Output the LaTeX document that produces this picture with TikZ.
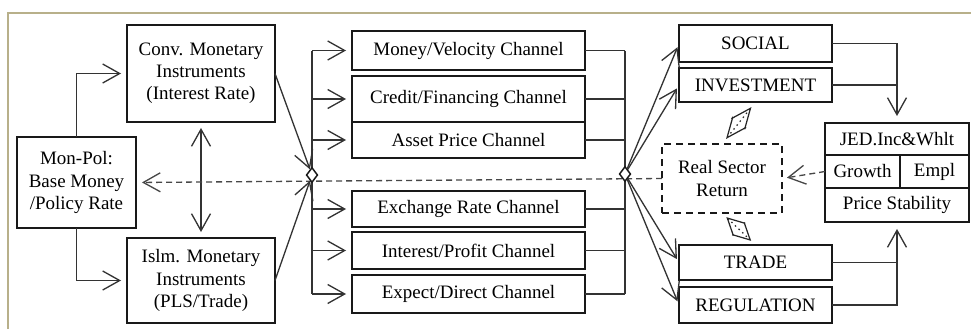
\documentclass[tikz,border=0pt]{standalone}
\usepackage{fontspec}
\setmainfont{Liberation Serif}
\usetikzlibrary{arrows.meta}
\usetikzlibrary{positioning}
\usetikzlibrary{shapes.geometric}

\definecolor{frametan}{RGB}{184,176,138}

\tikzset{
  >={Straight Barb[length=0.34cm,width=0.38cm]},
  blk/.style={draw=black!90,line width=1.3pt,inner sep=0pt,outer sep=0pt,align=center,font=\fontsize{10.8}{12.6}\selectfont},
  chan/.style={blk,minimum width=4.66cm},
  sect/.style={blk,minimum width=3.06cm},
  wire/.style={draw=black!80,line width=0.75pt},
  feed/.style={draw=black!72,line width=0.75pt,dash pattern=on 0.12cm off 0.08cm},
  junc/.style={diamond,draw=black!90,fill=white,line width=0.85pt,inner sep=0pt,minimum width=0.23cm,minimum height=0.3cm},
  link/.style={draw=black!85,line width=0.7pt,dash pattern=on 0.03cm off 0.07cm,shorten <=0.13cm,shorten >=0.13cm}
}

\begin{document}
\begin{tikzpicture}[x=0.02cm,y=-0.02cm]
\useasboundingbox (0,0) rectangle (971,329);
\draw[frametan,line width=1.1pt] (8,329) -- (8,13) -- (971,13);

\node[blk,minimum width=2.38cm,minimum height=1.82cm] (monpol) at (76.5,182.5) {Mon-Pol:\\Base Money\\/Policy Rate};
\node[blk,minimum width=2.96cm,minimum height=1.94cm] (conv) at (201,73.5) {Conv. Monetary\\Instruments\\(Interest Rate)};
\node[blk,minimum width=2.96cm,minimum height=1.70cm] (islm) at (201,280.5) {Islm. Monetary\\Instruments\\(PLS/Trade)};

\node[chan,minimum height=0.78cm] (money) at (468.5,50.5) {Money/Velocity Channel};
\node[chan,minimum height=0.92cm,below=0.12cm of money] (credit) {Credit/Financing Channel};
\node[chan,minimum height=0.72cm,below=0pt of credit] (asset) {Asset Price Channel};
\node[chan,minimum height=0.72cm] (exch) at (468.5,209) {Exchange Rate Channel};
\node[chan,minimum height=0.74cm,below=0.1cm of exch] (intp) {Interest/Profit Channel};
\node[chan,minimum height=0.76cm,below=0.12cm of intp] (expect) {Expect/Direct Channel};

\node[sect,minimum height=0.74cm] (social) at (755.5,43.5) {SOCIAL};
\node[sect,minimum height=0.68cm,below=0.12cm of social] (invest) {INVESTMENT};
\node[sect,minimum height=0.70cm] (trade) at (755.5,262.5) {TRADE};
\node[sect,minimum height=0.72cm,below=0.14cm of trade] (regul) {REGULATION};

\node[blk,dash pattern=on 0.14cm off 0.1cm,minimum width=2.4cm,minimum height=1.38cm] (rsr) at (722,178.5) {Real Sector\\Return};

\node[blk,minimum width=2.88cm,minimum height=0.64cm] (jed) at (897,139) {JED.Inc\&Whlt};
\node[blk,anchor=north west,minimum width=1.5cm,minimum height=0.66cm] (growth) at (jed.south west) {Growth};
\node[blk,anchor=north east,minimum width=1.38cm,minimum height=0.66cm] (empl) at (jed.south east) {Empl};
\node[blk,anchor=north west,minimum width=2.88cm,minimum height=0.68cm] (price) at (growth.south west) {Price Stability};

\coordinate (lb) at (312,175);
\coordinate (rb) at (625,174);

\draw[wire,->,shorten >=0.12cm] (monpol.north) |- (conv.west);
\draw[wire,->,shorten >=0.12cm] (monpol.south) |- (islm.west);
\draw[wire,<->,shorten <=0.12cm,shorten >=0.12cm] (conv.south) -- (islm.north);

\draw[feed,->,shorten >=0.12cm] (rsr.west) -- (monpol.east);
\draw[feed,->,shorten >=0.1cm] (growth.west) -- (rsr.east);

\draw[wire] (lb |- money.west) -- (lb |- expect.west);
\draw[wire] (rb |- money.east) -- (rb |- expect.east);
\foreach \c in {money,credit,asset,exch,intp,expect}{
  \draw[wire,->,shorten >=0.12cm] (lb |- \c.west) -- (\c.west);
  \draw[wire] (\c.east) -- (rb |- \c.east);
}

\node[junc] (ldia) at (lb) {};
\node[junc] (rdia) at (rb) {};

\draw[wire,->] (conv.east) -- (ldia);
\draw[wire,->] (islm.east) -- (ldia);
\foreach \s in {social,invest,trade,regul}
  \draw[wire,->,shorten >=0.08cm] (rdia) -- (\s.west);

\draw[wire,->,shorten >=0.14cm] (social.east) -| (jed.north);
\draw[wire] (invest.east) -- (invest.east -| jed.north);
\draw[wire,->,shorten >=0.14cm] (regul.east) -| (price.south);
\draw[wire] (trade.east) -- (trade.east -| price.south);

\draw[link,{Straight Barb[length=0.4cm,width=0.34cm]}-{Straight Barb[length=0.4cm,width=0.34cm]}] (invest.south) -- (rsr.north);
\draw[link,{Straight Barb[length=0.33cm,width=0.34cm]}-{Straight Barb[length=0.33cm,width=0.34cm]},shorten <=0.12cm,shorten >=0.12cm] (rsr.south) -- (trade.north);

\end{tikzpicture}
\end{document}
